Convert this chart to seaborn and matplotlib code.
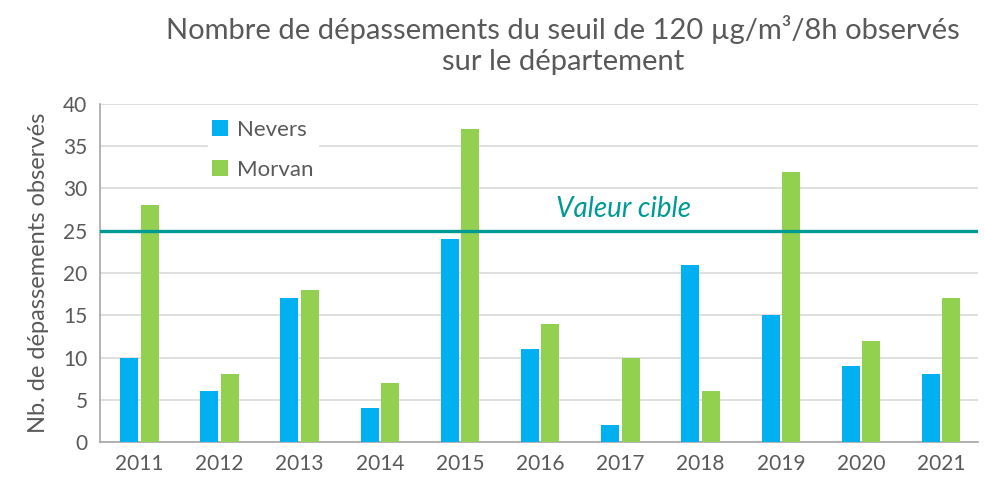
import pandas as pd
import numpy as np
import seaborn as sns
import matplotlib.pyplot as plt

years = ['2011', '2012', '2013', '2014', '2015', '2016', '2017', '2018', '2019', '2020', '2021']
nevers = [10, 6, 17, 4, 24, 11, 2, 21, 15, 9, 8]
morvan = [28, 8, 18, 7, 37, 14, 10, 6, 32, 12, 17]
valeur_cible = 25

df = pd.DataFrame({'annee': years * 2,
                   'nb': nevers + morvan,
                   'station': ['Nevers'] * len(years) + ['Morvan'] * len(years)})

sns.set_style('white')
plt.rcParams['font.family'] = ['Lato', 'DejaVu Sans']
grey = '#595959'

fig = plt.figure(figsize=(9.84, 4.84), dpi=100)
ax = fig.add_axes([100 / 984, 1 - 442 / 484, 878 / 984, 338 / 484])

sns.barplot(data=df, x='annee', y='nb', hue='station',
            palette=['#00B0F0', '#92D050'], width=0.51, gap=0.12,
            saturation=1, linewidth=0, ax=ax, zorder=3)

ax.axhline(valeur_cible, color='#009A94', lw=2.4, zorder=4)
ax.text(5.2, valeur_cible + 2.6, 'Valeur cible', color='#009A94',
        fontsize=20, style='italic', ha='left', va='center')

ax.set_ylim(0, 40)
ax.set_xlim(-0.49, 10.46)
ax.set_yticks(range(0, 41, 5))
ax.yaxis.grid(True, color='#D9D9D9', lw=1.2, zorder=0)
ax.set_axisbelow(True)
for s in ['top', 'right']:
    ax.spines[s].set_visible(False)
for s in ['left', 'bottom']:
    ax.spines[s].set_color('#A6A6A6')
    ax.spines[s].set_linewidth(1.2)

ax.tick_params(axis='both', colors=grey, labelsize=15, length=0, pad=9)
ax.set_xlabel('')
ax.set_ylabel('Nb. de dépassements observés', fontsize=17, color=grey, labelpad=10)

leg = ax.legend(loc='upper left', bbox_to_anchor=(0.11, 1.0), frameon=True,
                fontsize=16, labelspacing=0.9, handlelength=0.7, handleheight=0.7,
                handletextpad=0.4, borderpad=0.2, edgecolor='white', framealpha=1,
                fancybox=False)
for t in leg.get_texts():
    t.set_color(grey)
leg.set_zorder(5)

fig.text(0.572, 0.907, 'Nombre de dépassements du seuil de 120 µg/m³/8h observés\nsur le département',
         ha='center', va='center', fontsize=21, color=grey, linespacing=1.2)

fig.savefig('out.png', dpi=100)
